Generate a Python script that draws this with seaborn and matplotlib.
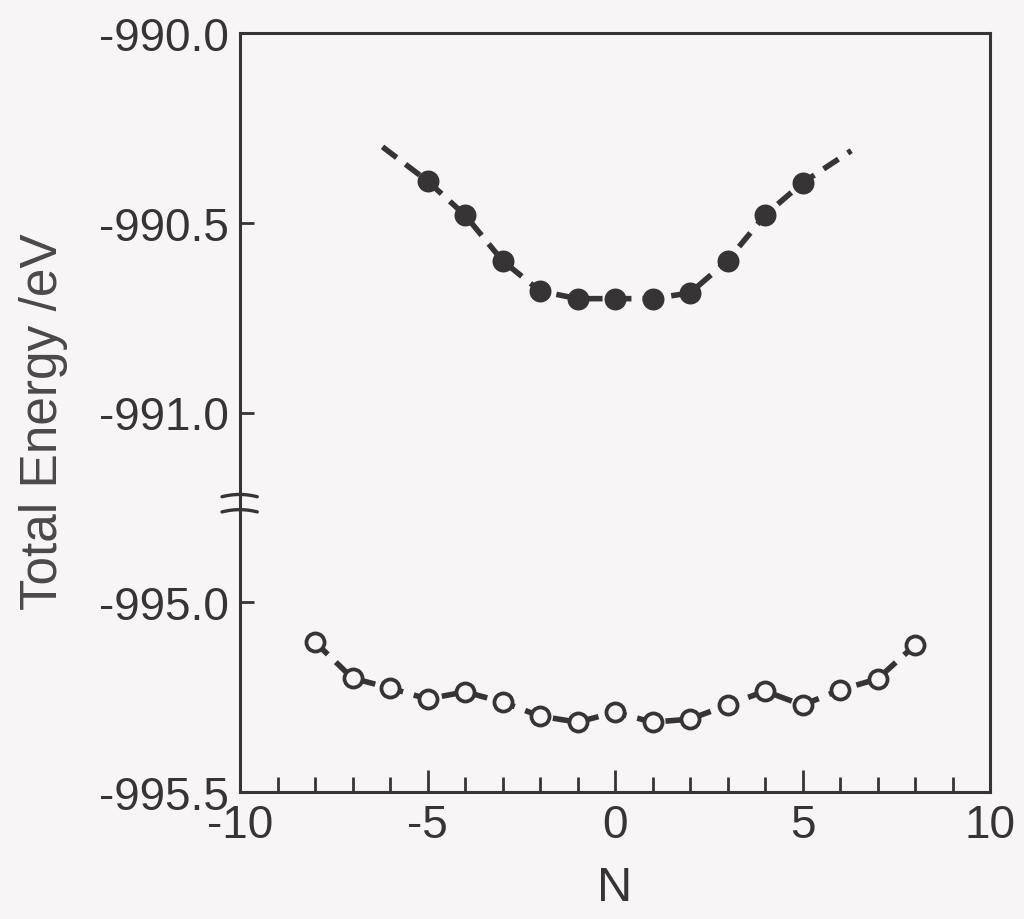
import numpy as np
import matplotlib
matplotlib.use("Agg")
import matplotlib.pyplot as plt
import seaborn as sns

# filled circles (upper series)
n_filled = [-5, -4, -3, -2, -1, 0, 1, 2, 3, 4, 5]
e_filled = [-990.39, -990.48, -990.60, -990.68, -990.70, -990.70, -990.70, -990.685, -990.60, -990.48, -990.395]
# the dashed guide line runs a little past the last points
n_filled_ends = [-6.2, 6.3]
e_filled_ends = [-990.30, -990.31]

# open circles (lower series)
n_open = [-8, -7, -6, -5, -4, -3, -2, -1, 0, 1, 2, 3, 4, 5, 6, 7, 8]
e_open = [-995.105, -995.20, -995.226, -995.255, -995.236, -995.263, -995.30, -995.316, -995.29,
          -995.316, -995.308, -995.271, -995.234, -995.271, -995.231, -995.202, -995.113]

y_ticks = [-990.0, -990.5, -991.0, -995.0, -995.5]
x_ticks = [-10, -5, 0, 5, 10]

INK = "#363434"
BG = "#f7f5f5"

sns.set_style("ticks")
plt.rcParams["font.family"] = ["Liberation Sans", "DejaVu Sans"]


# broken y axis: the empty span between -991.25 and -994.75 is cut out
def fwd(e):
    e = np.asarray(e, dtype=float)
    return np.where(e < -993.0, e + 3.5, e)


def inv(p):
    p = np.asarray(p, dtype=float)
    return np.where(p < -991.25, p - 3.5, p)


fig = plt.figure(figsize=(10.24, 9.2), dpi=100, facecolor=BG)
ax = fig.add_axes([240 / 1024, 1 - 793 / 920, 750 / 1024, 759 / 920])
ax.set_facecolor(BG)
ax.set_yscale("function", functions=(fwd, inv))

curve_n = [n_filled_ends[0]] + n_filled + [n_filled_ends[1]]
curve_e = [e_filled_ends[0]] + e_filled + [e_filled_ends[1]]
line_kw = dict(color=INK, linewidth=4.0, ax=ax, legend=False)
sns.lineplot(x=curve_n, y=curve_e, **line_kw)
sns.lineplot(x=n_open, y=e_open, **line_kw)
for ln in ax.lines:
    ln.set_dashes((3.2, 2.0))
    ln.set_dash_capstyle("butt")

sns.scatterplot(x=n_filled, y=e_filled, s=250, color=INK, edgecolor=INK, linewidth=0, ax=ax, zorder=3)
sns.scatterplot(x=n_open, y=e_open, s=170, color=BG, edgecolor=INK, linewidth=2.7, ax=ax, zorder=3)

ax.set_xlim(-10, 10)
ax.set_ylim(-995.5, -990.0)
ax.set_xticks(x_ticks)
ax.set_xticklabels([str(t) for t in x_ticks])
ax.set_yticks(y_ticks)
ax.set_yticklabels([f"{t:.1f}" for t in y_ticks])
ax.yaxis.set_minor_locator(matplotlib.ticker.NullLocator())
ax.set_xticks(np.arange(-9, 10), minor=True)

ax.tick_params(axis="both", which="both", direction="in", colors=INK, labelcolor=INK,
               labelsize=33, width=2)
ax.tick_params(axis="x", which="major", length=16, pad=8)
ax.tick_params(axis="x", which="minor", length=11)
ax.tick_params(axis="y", which="major", length=10, pad=8)
for s in ax.spines.values():
    s.set_color(INK)
    s.set_linewidth(2.2)

ax.set_xlabel("N", fontsize=35, color=INK)
ax.set_ylabel("Total Energy /eV", fontsize=37, color="#4a4848")
ax.xaxis.set_label_coords(0.5, -0.096)
ax.yaxis.set_label_coords(-0.229, 0.489)

# break marks on the left spine
arc_x = np.linspace(-0.024, 0.023, 20)
bump = 0.003 * (1 - ((arc_x + 0.0005) / 0.0235) ** 2)
for y0 in (0.389, 0.369):
    ax.plot(arc_x, y0 + bump, color=INK, linewidth=2.4, transform=ax.transAxes, clip_on=False, zorder=5)

fig.savefig("out.png", dpi=100, facecolor=BG)
